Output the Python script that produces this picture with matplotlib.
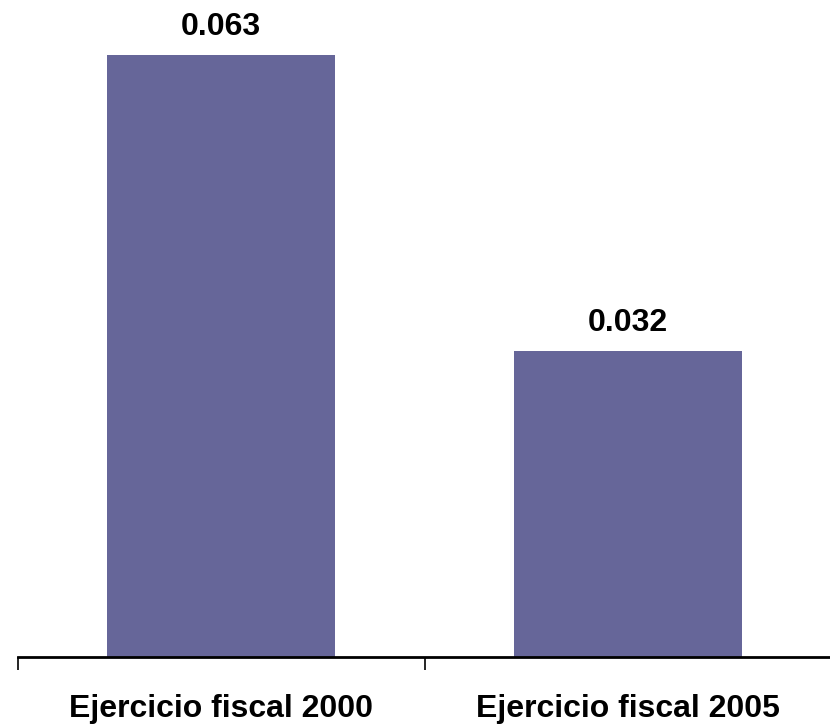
import matplotlib.pyplot as plt

categories = ["Ejercicio fiscal 2000", "Ejercicio fiscal 2005"]
values = [0.063, 0.032]
value_labels = ["0.063", "0.032"]

plt.rcParams['font.family'] = ['Liberation Sans', 'DejaVu Sans']

fig = plt.figure(figsize=(8.3, 7.26), dpi=100)
# axes spans from the left tick to the right edge
ax = fig.add_axes([18 / 830, (726 - 657) / 726, 813 / 830, 647 / 726])

x = range(len(categories))
ax.bar(x, values, width=0.56, color="#666699", zorder=2)

for xi, v, lbl in zip(x, values, value_labels):
    ax.annotate(lbl, (xi, v), xytext=(0, 13), textcoords="offset pixels",
                ha="center", va="bottom", fontsize=23, fontweight="bold")

ax.set_xlim(-0.5, 1.5)
ax.set_ylim(0, 0.0677)

for side in ["left", "right", "top"]:
    ax.spines[side].set_visible(False)
ax.spines["bottom"].set_linewidth(2)
ax.set_yticks([])

ax.set_xticks([-0.5, 0.5, 1.5])
ax.set_xticklabels([])
ax.tick_params(axis="x", direction="out", length=9, width=1.2)
ax.set_xticks(list(x), minor=True)
ax.set_xticklabels(categories, minor=True, fontsize=23, fontweight="bold")
ax.tick_params(axis="x", which="minor", length=0, pad=27)

fig.savefig("out.png", dpi=100)
